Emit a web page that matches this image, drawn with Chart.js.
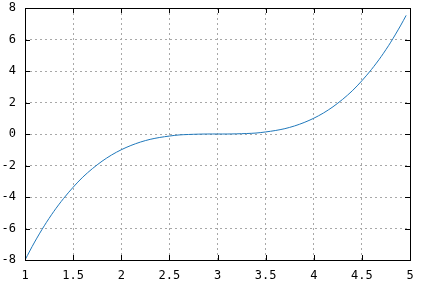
<!DOCTYPE html>
<html>
<head>
<meta charset="utf-8">
<script src="https://cdn.jsdelivr.net/npm/chart.js@4"></script>
<style>
  html, body { margin: 0; padding: 0; background: #fff; }
  #wrap { width: 431px; height: 290px; }
</style>
</head>
<body>
<div id="wrap"><canvas id="plot" width="431" height="290"></canvas></div>
<script>
// values
const xValues = [1.0, 1.1, 1.2, 1.3, 1.4, 1.5, 1.6, 1.7, 1.8, 1.9,
                 2.0, 2.1, 2.2, 2.3, 2.4, 2.5, 2.6, 2.7, 2.8, 2.9,
                 3.0, 3.1, 3.2, 3.3, 3.4, 3.5, 3.6, 3.7, 3.8, 3.9,
                 4.0, 4.1, 4.2, 4.3, 4.4, 4.5, 4.6, 4.7, 4.8, 4.9, 4.96];
const yValues = [-8.0, -6.86, -5.83, -4.91, -4.10, -3.38, -2.74, -2.20, -1.73, -1.33,
                 -1.0, -0.73, -0.51, -0.34, -0.22, -0.13, -0.06, -0.03, -0.01, 0.0,
                 0.0, 0.0, 0.01, 0.03, 0.06, 0.13, 0.22, 0.34, 0.51, 0.73,
                 1.0, 1.33, 1.73, 2.20, 2.74, 3.38, 4.10, 4.91, 5.83, 6.86, 7.53];
const xTicks = [1, 1.5, 2, 2.5, 3, 3.5, 4, 4.5, 5];
const yTicks = [-8, -6, -4, -2, 0, 2, 4, 6, 8];

const LINE_COLOR = "#1f78bb";
const FONT = { family: "DejaVu Sans Mono", size: 12 };

// gnuplot style inward tick marks on all four sides
const innerTicks = {
    id: "innerTicks",
    afterDraw(chart) {
        const { ctx, chartArea: a, scales } = chart;
        const len = 5;
        ctx.save();
        ctx.strokeStyle = "#000";
        ctx.lineWidth = 1;
        ctx.beginPath();
        xTicks.forEach(v => {
            const px = Math.round(scales.x.getPixelForValue(v)) + 0.5;
            ctx.moveTo(px, a.bottom); ctx.lineTo(px, a.bottom - len);
            ctx.moveTo(px, a.top); ctx.lineTo(px, a.top + len);
        });
        yTicks.forEach(v => {
            const py = Math.round(scales.y.getPixelForValue(v)) + 0.5;
            ctx.moveTo(a.left, py); ctx.lineTo(a.left + len, py);
            ctx.moveTo(a.right, py); ctx.lineTo(a.right - len, py);
        });
        ctx.stroke();
        ctx.strokeRect(a.left + 0.5, a.top + 0.5, a.right - a.left, a.bottom - a.top);
        ctx.restore();
    }
};

new Chart(document.getElementById("plot").getContext("2d"), {
    type: "line",
    data: {
        datasets: [{
            data: xValues.map((x, i) => ({ x: x, y: yValues[i] })),
            borderColor: LINE_COLOR,
            borderWidth: 1,
            pointRadius: 0,
            tension: 0.3,
            fill: false
        }]
    },
    options: {
        responsive: false,
        animation: false,
        devicePixelRatio: 1,
        layout: { padding: { top: 0, right: 21, left: 0, bottom: 0 } },
        plugins: { legend: { display: false }, tooltip: { enabled: false } },
        scales: {
            x: {
                type: "linear",
                min: 1, max: 5,
                afterBuildTicks: s => { s.ticks = xTicks.map(v => ({ value: v })); },
                afterFit: s => { s.height = 30; s.paddingLeft = 0; s.paddingRight = 0; },
                grid: { color: "#a8a8a8", drawTicks: false },
                border: { display: false, dash: [2, 3] },
                ticks: {
                    color: "#000", font: FONT, padding: 9, maxRotation: 0,
                    autoSkip: false,
                    callback: v => String(v)
                }
            },
            y: {
                type: "linear",
                min: -8, max: 8,
                afterBuildTicks: s => { s.ticks = yTicks.map(v => ({ value: v })); },
                afterFit: s => { s.width = 25; s.paddingTop = 8; s.paddingBottom = 0; },
                grid: { color: "#a8a8a8", drawTicks: false },
                border: { display: false, dash: [2, 3] },
                ticks: {
                    color: "#000", font: FONT, padding: 9,
                    autoSkip: false,
                    callback: v => String(v)
                }
            }
        }
    },
    plugins: [innerTicks]
});
</script>
</body>
</html>
